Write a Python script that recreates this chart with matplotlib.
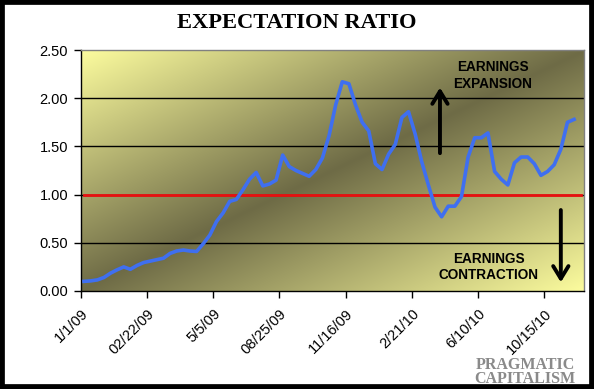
import numpy as np
import matplotlib
matplotlib.use("Agg")
import matplotlib.pyplot as plt
from matplotlib.patches import Rectangle

# ---- data ----
ratio = [0.10, 0.105, 0.115, 0.14, 0.185, 0.22, 0.25, 0.225, 0.265, 0.295,
         0.31, 0.325, 0.34, 0.39, 0.415, 0.425, 0.415, 0.41, 0.49, 0.58,
         0.72, 0.81, 0.93, 0.95, 1.05, 1.16, 1.23, 1.09, 1.11, 1.15,
         1.41, 1.29, 1.25, 1.22, 1.19, 1.26, 1.38, 1.61, 1.93, 2.17,
         2.15, 1.93, 1.75, 1.66, 1.32, 1.26, 1.42, 1.52, 1.80, 1.86,
         1.63, 1.34, 1.10, 0.87, 0.77, 0.88, 0.88, 0.98, 1.39, 1.59,
         1.59, 1.64, 1.24, 1.16, 1.10, 1.33, 1.39, 1.39, 1.32, 1.20,
         1.24, 1.31, 1.47, 1.75, 1.78]
n_categories = 76
baseline = [1.0] * n_categories
tick_labels = ["1/1/09", "02/22/09", "5/5/09", "08/25/09",
               "11/16/09", "2/21/10", "6/10/10", "10/15/10"]
label_every = 10
y_ticks = [0.0, 0.5, 1.0, 1.5, 2.0, 2.5]

W, H = 594, 389
fig = plt.figure(figsize=(W / 100, H / 100), dpi=100)
fig.patch.set_facecolor("white")

# black outer frame
fig.add_artist(Rectangle((0, 0), 1, 1, transform=fig.transFigure,
                         fill=False, edgecolor="black", linewidth=7, zorder=10))

left, right, top, bottom = 80.7, 584, 50, 291
ax = fig.add_axes([left / W, 1 - bottom / H, (right - left) / W, (bottom - top) / H])

# gradient background
nx, ny = 300, 150
u = np.linspace(0, 1, nx)[None, :]
v = np.linspace(0, 1, ny)[:, None]
t = np.abs(u + v - 1)
light = np.array([252, 252, 158]) / 255
dark = np.array([110, 107, 70]) / 255
img = dark[None, None, :] + (light - dark)[None, None, :] * t[:, :, None]
ax.imshow(img, extent=[0, 1, 0, 1], transform=ax.transAxes, aspect="auto",
          zorder=0, interpolation="bilinear")

x_blue = np.arange(len(ratio))
x_red = np.arange(n_categories)
ax.set_xlim(-0.5, n_categories - 0.5)
ax.set_ylim(0, 2.5)

for yv in y_ticks[1:-1]:
    ax.axhline(yv, color="black", lw=1.0, zorder=1)

ax.plot(x_red, baseline, color="#e81010", lw=2.0, zorder=2)
ax.plot(x_blue, ratio, color="#3f6ff0", lw=2.6, zorder=3, solid_joinstyle="round")

ax.set_yticks(y_ticks)
ax.set_yticklabels([f"{y:.2f}" for y in y_ticks])
xt = [-0.5 + label_every * k for k in range(len(tick_labels))]
ax.set_xticks(xt)
ax.set_xticklabels(tick_labels, rotation=45, ha="right", va="top",
                   rotation_mode="anchor")

for lab in ax.get_yticklabels():
    lab.set_fontfamily("Liberation Sans")
    lab.set_fontsize(10.5)
for lab in ax.get_xticklabels():
    lab.set_fontfamily("Liberation Sans")
    lab.set_fontsize(10.5)
ax.tick_params(axis="both", direction="out", length=5, width=1, color="black")
ax.tick_params(axis="y", pad=4)
ax.tick_params(axis="x", pad=6)

for s in ["left", "bottom"]:
    ax.spines[s].set_color("black")
    ax.spines[s].set_linewidth(1.0)
for s in ["top", "right"]:
    ax.spines[s].set_color("#808080")
    ax.spines[s].set_linewidth(1.0)

# annotations
ax.text(61.75, 2.235, "EARNINGS\nEXPANSION", ha="center", va="center",
        fontfamily="Liberation Sans", fontweight="bold", fontsize=9.8,
        linespacing=1.2, zorder=5)
ax.text(61.15, 0.25, "EARNINGS\nCONTRACTION", ha="center", va="center",
        fontfamily="Liberation Sans", fontweight="bold", fontsize=9.8,
        linespacing=1.2, zorder=5)
arrow_style = "->,head_length=0.9,head_width=0.55"
ax.annotate("", xy=(53.75, 2.11), xytext=(53.75, 1.43),
            arrowprops=dict(arrowstyle=arrow_style, lw=2.8, color="black",
                            shrinkA=0, shrinkB=0), zorder=5)
ax.annotate("", xy=(72.0, 0.09), xytext=(72.0, 0.84),
            arrowprops=dict(arrowstyle=arrow_style, lw=2.8, color="black",
                            shrinkA=0, shrinkB=0), zorder=5)

fig.text(297 / W, 1 - 23 / H, "EXPECTATION RATIO", ha="center", va="center",
         fontfamily="Liberation Serif", fontweight="bold", fontsize=16.2)

fig.text(525 / W, 1 - 372 / H, "PRAGMATIC\nCAPITALISM", ha="center", va="center",
         fontfamily="Liberation Serif", fontweight="bold", fontsize=11.5,
         color="#8a8a8a", linespacing=0.9)

fig.savefig("out.png", dpi=100)
